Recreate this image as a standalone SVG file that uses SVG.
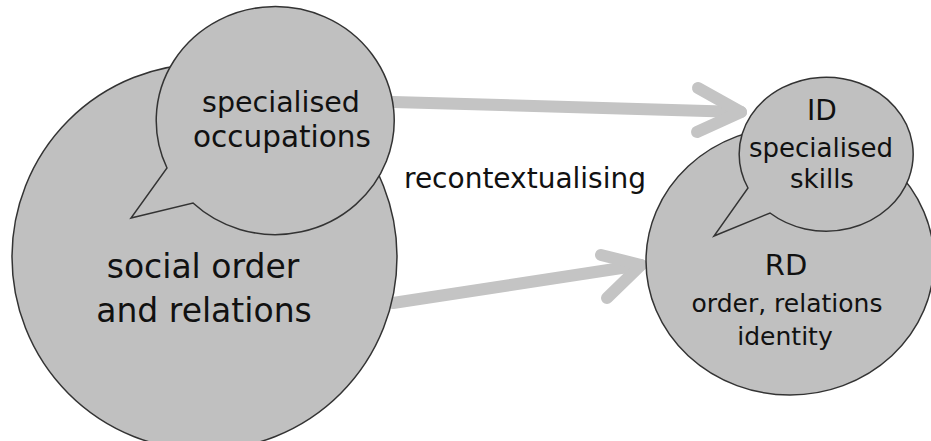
<svg xmlns="http://www.w3.org/2000/svg" width="931" height="441" viewBox="0 0 931 441">
<style>
.node{fill:#c0c0c0;stroke:#333;stroke-width:1.5}
.t{font-family:"DejaVu Sans",sans-serif;fill:#111;text-anchor:middle}
.arr{fill:none;stroke:#c4c4c4;stroke-width:12;stroke-linecap:round;stroke-linejoin:round}
</style>
<rect width="931" height="441" fill="#fff"/>
<g id="connectors">
<polyline class="arr" points="393,102 741,112"/>
<polyline class="arr" points="698,88 741,112 697,132"/>
<polyline class="arr" points="393,303 641,265"/>
<polyline class="arr" points="601,255 641,265 607,298"/>
<text class="t" x="525" y="188" font-size="28">recontextualising</text>
</g>
<g id="social">
<ellipse class="node" cx="204.5" cy="257" rx="192.5" ry="193"/>
<text class="t" x="203" y="278" font-size="33">social order</text>
<text class="t" x="204" y="322" font-size="33">and relations</text>
</g>
<g id="occupations">
<path class="node" d="M167,168 A119 114 0 1 1 193,203 L131,218 Z"/>
<text class="t" x="281" y="112" font-size="28.5">specialised</text>
<text class="t" x="282" y="147" font-size="29.5">occupations</text>
</g>
<g id="RD">
<ellipse class="node" cx="790" cy="261" rx="144" ry="134"/>
<text class="t" x="786" y="275" font-size="29">RD</text>
<text class="t" x="787" y="312" font-size="25">order, relations</text>
<text class="t" x="785" y="345" font-size="25">identity</text>
</g>
<g id="ID">
<path class="node" d="M748,188 A87 77 0 1 1 770,213 L714,236 Z"/>
<text class="t" x="822" y="120" font-size="28">ID</text>
<text class="t" x="821" y="157" font-size="26">specialised</text>
<text class="t" x="822" y="188" font-size="26">skills</text>
</g>
</svg>
